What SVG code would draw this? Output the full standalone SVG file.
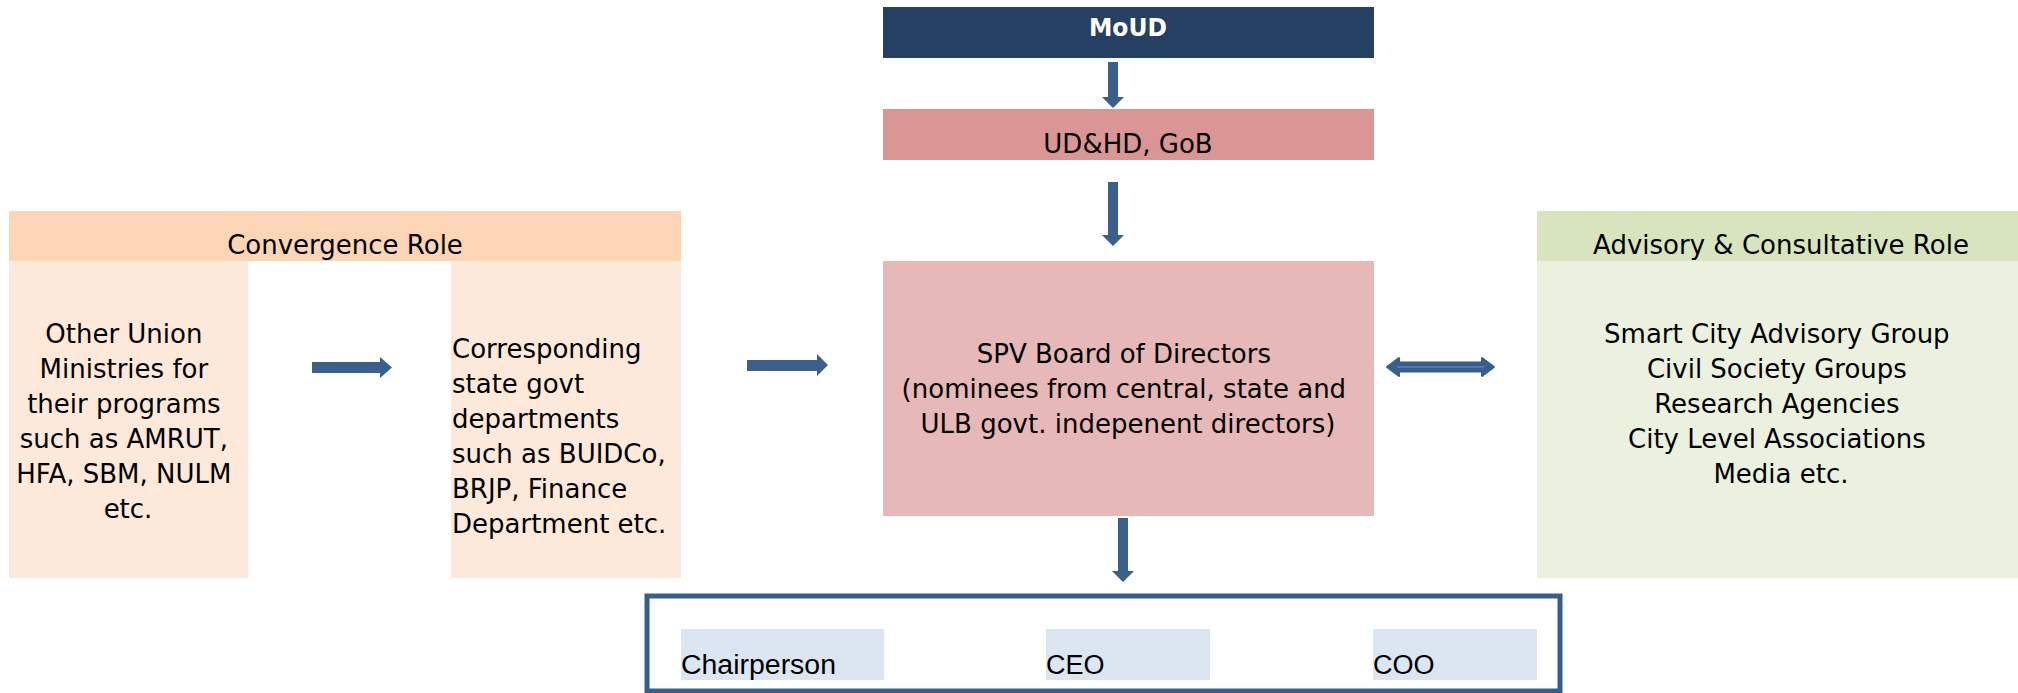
<svg xmlns="http://www.w3.org/2000/svg" width="2018" height="693" viewBox="0 0 2018 693">
<style>
  .t { font-family: "DejaVu Sans", Verdana, sans-serif; font-size: 26px; fill: #000; }
  .c { text-anchor: middle; }
  .lab { font-family: "Liberation Sans", Arial, sans-serif; font-size: 27px; fill: #000; }
  .arr { fill: #3a5f8c; }
  .hl { fill: #dce6f2; }
</style>
<rect width="2018" height="693" fill="#ffffff"/>

<g id="moud">
  <rect x="883" y="7" width="491" height="51" fill="#264063"/>
  <text x="1128" y="36" class="c" font-family="DejaVu Sans, Verdana, sans-serif" font-size="25" font-weight="bold" fill="#ffffff" textLength="78" lengthAdjust="spacingAndGlyphs">MoUD</text>
</g>

<g id="udhd">
  <rect x="883" y="109" width="491" height="51" fill="#d99694"/>
  <text x="1128" y="153" class="t c">UD&amp;HD, GoB</text>
</g>

<g id="spv">
  <rect x="883" y="261" width="491" height="255" fill="#e6b9b8"/>
  <text class="t c">
    <tspan x="1128" y="363">SPV Board of Directors</tspan>
    <tspan x="1128" y="398">(nominees from central, state and</tspan>
    <tspan x="1128" y="433">ULB govt. indepenent directors)</tspan>
  </text>
</g>

<g id="convergence">
  <rect x="9" y="211" width="672" height="50" fill="#fcd5b5"/>
  <rect x="9" y="261" width="239" height="317" fill="#fde9d9"/>
  <rect x="451" y="261" width="230" height="317" fill="#fde9d9"/>
  <text x="345" y="254" class="t c" font-size="25.5">Convergence Role</text>
  <text class="t c">
    <tspan x="128" y="343">Other Union</tspan>
    <tspan x="128" y="378">Ministries for</tspan>
    <tspan x="128" y="413">their programs</tspan>
    <tspan x="128" y="448">such as AMRUT,</tspan>
    <tspan x="128" y="483">HFA, SBM, NULM</tspan>
    <tspan x="128" y="518">etc.</tspan>
  </text>
  <text class="t">
    <tspan x="452" y="358">Corresponding</tspan>
    <tspan x="452" y="393">state govt</tspan>
    <tspan x="452" y="428">departments</tspan>
    <tspan x="452" y="463">such as BUIDCo,</tspan>
    <tspan x="452" y="498">BRJP, Finance</tspan>
    <tspan x="452" y="533">Department etc.</tspan>
  </text>
</g>

<g id="advisory">
  <rect x="1537" y="211" width="481" height="50" fill="#d7e4bd"/>
  <rect x="1537" y="261" width="481" height="317" fill="#ebf1de"/>
  <text x="1781" y="254" class="t c">Advisory &amp; Consultative Role</text>
  <text class="t c">
    <tspan x="1781" y="343">Smart City Advisory Group</tspan>
    <tspan x="1781" y="378">Civil Society Groups</tspan>
    <tspan x="1781" y="413">Research Agencies</tspan>
    <tspan x="1781" y="448">City Level Associations</tspan>
    <tspan x="1781" y="483">Media etc.</tspan>
  </text>
</g>

<g id="management">
  <rect x="647" y="596" width="913" height="95" fill="#ffffff" stroke="#385d8a" stroke-width="5"/>
  <g id="chairperson">
    <rect x="681" y="629" width="203" height="51" class="hl"/>
    <text x="681" y="674" class="lab" textLength="155" lengthAdjust="spacingAndGlyphs">Chairperson</text>
  </g>
  <g id="ceo">
    <rect x="1046" y="629" width="164" height="51" class="hl"/>
    <text x="1046" y="674" class="lab" font-size="26">CEO</text>
  </g>
  <g id="coo">
    <rect x="1373" y="629" width="164" height="51" class="hl"/>
    <text x="1373" y="674" class="lab" font-size="26">COO</text>
  </g>
</g>

<g id="connectors">
  <polygon class="arr" points="1108,62 1118,62 1118,97 1124,97 1113,108 1102,97 1108,97"/>
  <polygon class="arr" points="1108,182 1118,182 1118,235 1124,235 1113,246 1102,235 1108,235"/>
  <polygon class="arr" points="1118,518 1128,518 1128,571 1134,571 1123,582 1112,571 1118,571"/>
  <polygon class="arr" points="312,362 380,362 380,357 392,367.5 380,378 380,373 312,373"/>
  <polygon class="arr" points="747,360 817,360 817,354 828,365 817,376 817,371 747,371"/>
  <polygon points="1387,367 1399,358 1399,362.5 1482,362.5 1482,358 1494,367 1482,376 1482,371.5 1399,371.5 1399,376" fill="#3a5f8c" stroke="#385d8a" stroke-width="2" stroke-linejoin="round"/>
  <line x1="1397" y1="367" x2="1484" y2="367" stroke="#5079ad" stroke-width="2"/>
</g>
</svg>
